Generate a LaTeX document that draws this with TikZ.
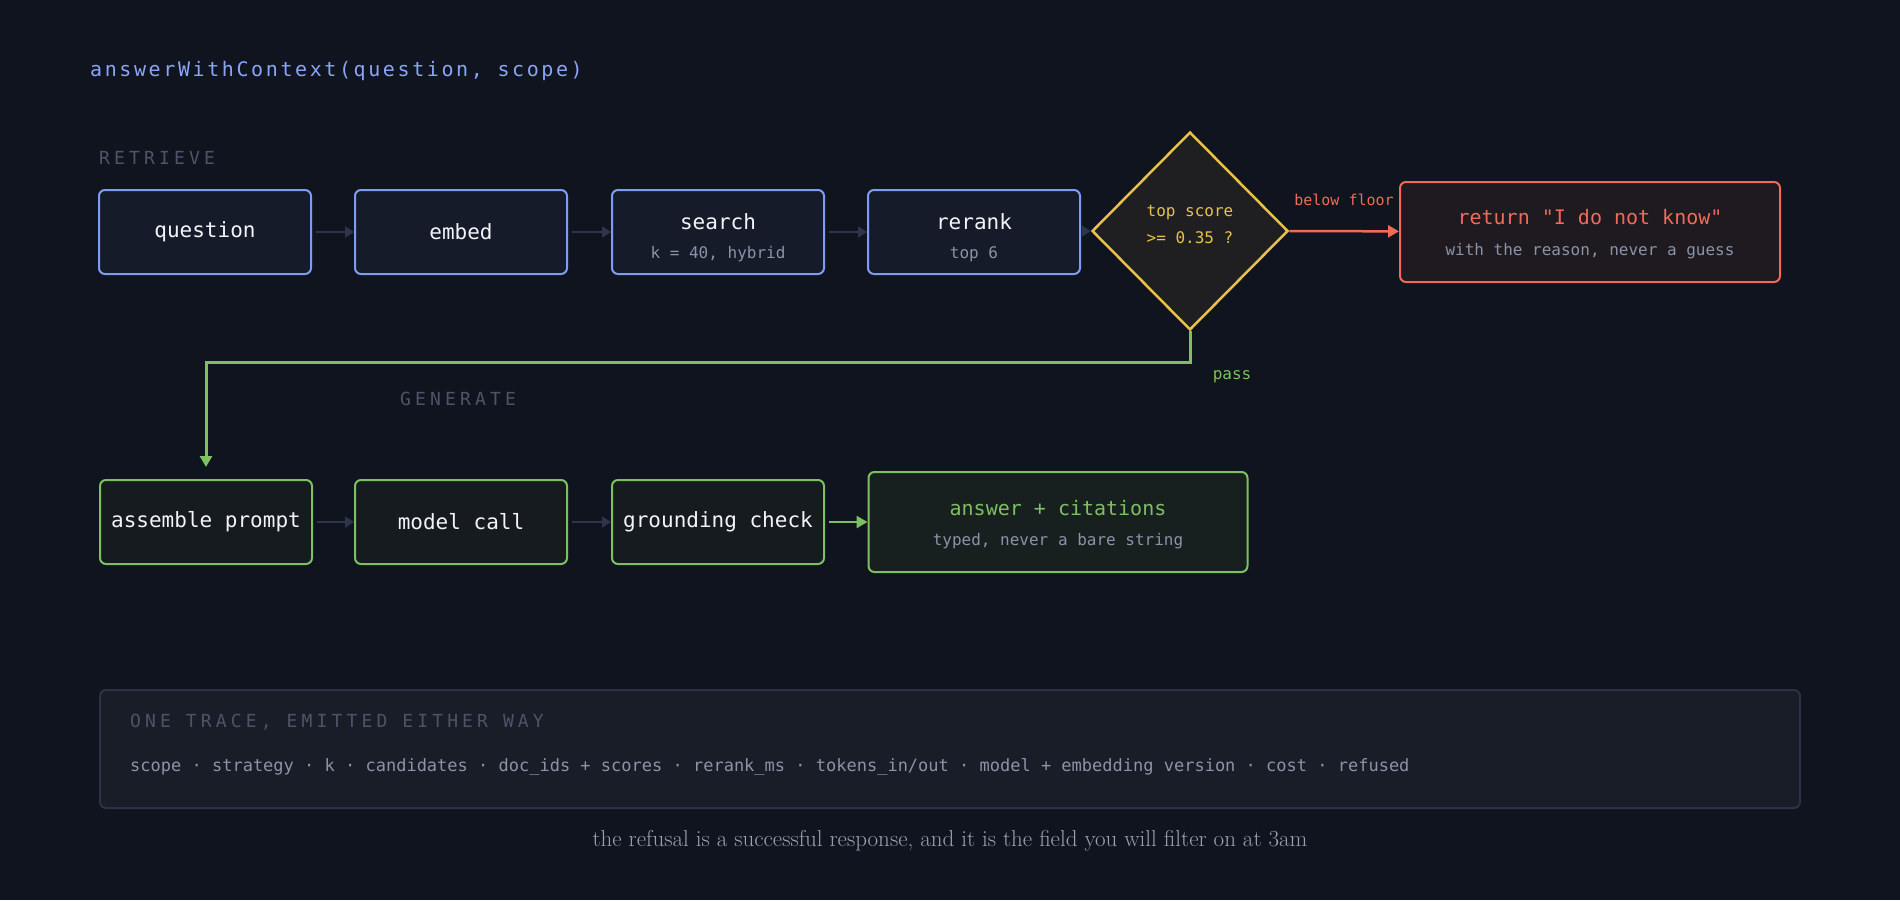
\documentclass[tikz,border=0pt]{standalone}
\usepackage{fontspec}
\setmonofont{DejaVu Sans Mono}
\newfontfamily\spacedmono[LetterSpace=23]{DejaVu Sans Mono}
\newfontfamily\titlemono[LetterSpace=13]{DejaVu Sans Mono}
\usetikzlibrary{arrows.meta,shapes.geometric}

\definecolor{bg}{HTML}{10141E}
\definecolor{bluebd}{HTML}{7F9CF5}
\definecolor{bluefill}{HTML}{151B29}
\definecolor{titleblue}{HTML}{8AA4F8}
\definecolor{ink}{HTML}{F2F4F8}
\definecolor{subink}{HTML}{8A93A8}
\definecolor{dimink}{HTML}{4B5468}
\definecolor{greenbd}{HTML}{7CC062}
\definecolor{greenfill}{HTML}{151B1F}
\definecolor{ansfill}{HTML}{18201F}
\definecolor{amber}{HTML}{E8C14A}
\definecolor{diafill}{HTML}{1F1F22}
\definecolor{redbd}{HTML}{EF6A5B}
\definecolor{redfill}{HTML}{1E1A20}
\definecolor{arrowgray}{HTML}{2C3549}
\definecolor{panelfill}{HTML}{191D27}
\definecolor{panelbd}{HTML}{2B3245}
\definecolor{capink}{HTML}{9AA1B4}

\newcommand\boxmono{\ttfamily\fontsize{21}{25}\selectfont}
\newcommand\bigmono{\ttfamily\fontsize{20}{24}\selectfont}
\newcommand\smallmono{\ttfamily\fontsize{16}{20}\selectfont}
\newcommand\tinymono{\ttfamily\fontsize{15}{18}\selectfont}

\begin{document}
\begin{tikzpicture}[x=1pt,y=-1pt,
    box/.style={draw=bluebd, fill=bluefill, line width=2, rounded corners=6, minimum width=212, minimum height=84, inner sep=0, text=ink, font=\boxmono},
    gbox/.style={box, draw=greenbd, fill=greenfill},
    gate/.style={diamond, draw=amber, fill=diafill, line width=2.5, minimum width=196, minimum height=198, inner sep=0, aspect=1},
    txt/.style={inner sep=0, text=ink, font=\boxmono},
    note/.style={inner sep=0, text=subink, font=\smallmono},
    section/.style={inner sep=0, anchor=west, text=dimink, font=\spacedmono\fontsize{18}{22}\selectfont},
    flow/.style={draw=arrowgray, line width=2, -{Triangle[length=9,width=11]}, shorten <=4},
    gflow/.style={draw=greenbd, line width=3, -{Triangle[length=11,width=12]}},
    rflow/.style={draw=redbd, line width=2.5, -{Triangle[length=11,width=12]}}]
\fill[bg] (0,0) rectangle (1900,900);
\useasboundingbox (0,0) rectangle (1900,900);

\node[inner sep=0, anchor=west, text=titleblue, font=\titlemono\fontsize{20}{24}\selectfont] (title) at (90,71) {answerWithContext(question, scope)};

% retrieve
\node[section] (retrieve) at (99,158) {RETRIEVE};
\node[box] (question) at (205,232) {question};
\node[box] (embed) at (461,232) {embed};
\node[box] (search) at (718,232) {};
\node[txt] (search-t) at (718,222) {search};
\node[note] (search-n) at (718,254) {k = 40, hybrid};
\node[box] (rerank) at (974,232) {};
\node[txt] (rerank-t) at (974,222) {rerank};
\node[note] (rerank-n) at (974,254) {top 6};

\node[gate] (gate) at (1190,231) {};
\node[inner sep=0, text=amber, font=\smallmono] (gate-a) at (1190,213) {top score};
\node[inner sep=0, text=amber, font=\smallmono] (gate-b) at (1190,238) {>= 0.35 ?};

\node[box, draw=redbd, fill=redfill, minimum width=380, minimum height=100] (refuse) at (1590,232) {};
\node[txt, font=\bigmono, text=redbd] (refuse-t) at (1590,217) {return "I do not know"};
\node[note] (refuse-n) at (1590,251) {with the reason, never a guess};

\draw[flow] (question) -- (embed);
\draw[flow] (embed) -- (search);
\draw[flow] (search) -- (rerank);
\draw[flow] (rerank) -- (gate.west);
\draw[rflow] (gate.east) -- (refuse);
\node[inner sep=0, text=redbd, font=\tinymono] (floor) at (1344,200) {below floor};

% generate
\node[section] (generate) at (400,399) {GENERATE};
\node[gbox] (assemble) at (206,522) {assemble prompt};
\node[gbox] (model) at (461,522) {model call};
\node[gbox] (ground) at (718,522) {grounding check};
\node[gbox, fill=ansfill, minimum width=379, minimum height=100] (answer) at (1058,522) {};
\node[txt, font=\bigmono, text=greenbd] (answer-t) at (1058,508) {answer + citations};
\node[note] (answer-n) at (1058,541) {typed, never a bare string};

\coordinate (bend) at (1190,362);
\draw[gflow, shorten >=12] (gate.south) -- (bend) -| (assemble.north);
\node[inner sep=0, text=greenbd, font=\smallmono] (pass) at (1232,377) {pass};

\draw[flow] (assemble) -- (model);
\draw[flow] (model) -- (ground);
\draw[gflow, line width=2.5, shorten <=4] (ground) -- (answer);

% trace
\draw[panelbd, fill=panelfill, line width=2, rounded corners=6] (100,690) rectangle (1800,808);
\node[section] (trace) at (130,722) {ONE TRACE, EMITTED EITHER WAY};
\node[note, anchor=west, font=\ttfamily\fontsize{17}{20}\selectfont] (fields) at (130,767) {scope · strategy · k · candidates · doc{\char`\_}ids + scores · rerank{\char`\_}ms · tokens{\char`\_}in/out · model + embedding version · cost · refused};

\node[inner sep=0, text=capink, font=\fontsize{23}{27}\selectfont] (caption) at (950,841) {the refusal is a successful response, and it is the field you will filter on at 3am};
\end{tikzpicture}
\end{document}
